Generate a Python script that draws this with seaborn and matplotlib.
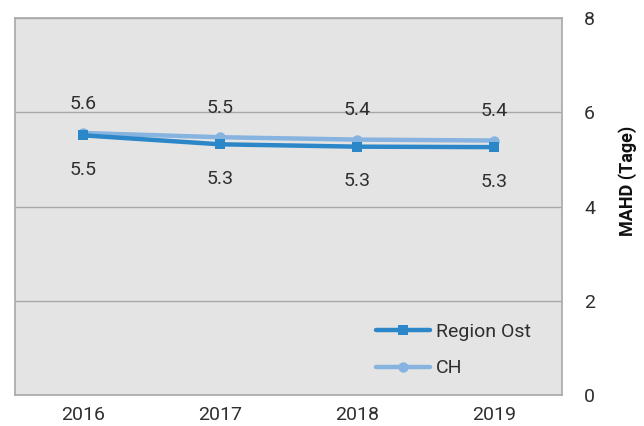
import matplotlib
matplotlib.use("Agg")
import matplotlib.pyplot as plt
import seaborn as sns
import pandas as pd

years = ["2016", "2017", "2018", "2019"]
region_ost = [5.51, 5.32, 5.27, 5.26]
ch = [5.56, 5.47, 5.42, 5.40]
series_names = ["Region Ost", "CH"]
y_ticks = [0, 2, 4, 6, 8]
y_label = "MAHD (Tage)"

sns.set_theme(style="white")
plt.rcParams["font.family"] = ["Roboto", "DejaVu Sans"]

df = pd.DataFrame({
    "Jahr": list(range(len(years))) * 2,
    "Wert": region_ost + ch,
    "Serie": [series_names[0]] * len(years) + [series_names[1]] * len(years),
})

FS = 14
TXT = "#2f2f2f"

fig = plt.figure(figsize=(6.44, 4.26), dpi=100)
ax = fig.add_axes([0.0233, 0.0728, 0.8494, 0.8849])
ax.set_facecolor("#E4E4E4")

palette = {"Region Ost": "#2B87C8", "CH": "#86B3DF"}
markers = {"Region Ost": "s", "CH": "o"}
for name in ["CH", "Region Ost"]:
    sub = df[df["Serie"] == name]
    sns.lineplot(data=sub, x="Jahr", y="Wert", ax=ax, color=palette[name],
                 marker=markers[name], markersize=7.5,
                 markeredgewidth=0, linewidth=3.2, label=name,
                 zorder=3 if name == "Region Ost" else 2)

for i, v in enumerate(ch):
    ax.annotate(f"{v:.1f}", (i, v), xytext=(0, 21), textcoords="offset points",
                ha="center", va="center", fontsize=FS, color=TXT)
for i, v in enumerate(region_ost):
    ax.annotate(f"{v:.1f}", (i, v), xytext=(0, -25), textcoords="offset points",
                ha="center", va="center", fontsize=FS, color=TXT)

ax.set_xlim(-0.5, 3.5)
ax.set_ylim(0, 8)
ax.set_xticks(range(len(years)))
ax.set_xticklabels(years)
ax.set_yticks(y_ticks)
ax.set_yticklabels([str(t) for t in y_ticks])
ax.yaxis.tick_right()
ax.tick_params(axis="y", length=0, pad=16, labelsize=FS, labelcolor=TXT)
ax.tick_params(axis="x", length=0, pad=8, labelsize=FS, labelcolor=TXT)
ax.set_xlabel("")
ax.set_ylabel("")
ax.text(1.119, 0.568, y_label, transform=ax.transAxes, rotation=90,
        ha="center", va="center", fontsize=13, fontweight="bold", color="#111111")
ax.grid(axis="y", color="#A8A8A8", linewidth=1)
ax.set_axisbelow(True)
for s in ax.spines.values():
    s.set_visible(True)
    s.set_color("#A8A8A8")
    s.set_linewidth(1.2)

handles, labels = ax.get_legend_handles_labels()
order = [labels.index("Region Ost"), labels.index("CH")]
ax.legend([handles[i] for i in order], [labels[i] for i in order],
          loc="lower right", bbox_to_anchor=(0.975, 0.0), frameon=False,
          fontsize=FS, handlelength=2.8, labelspacing=0.95, handletextpad=0.3,
          labelcolor=TXT)

fig.savefig("out.png", dpi=100)
